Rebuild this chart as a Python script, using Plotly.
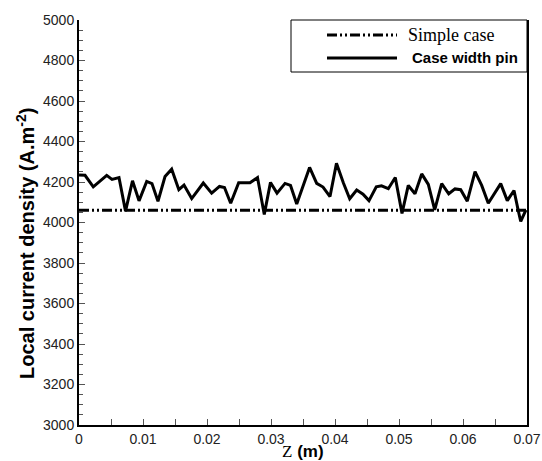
import plotly.graph_objects as go

# Data
z_simple = [0.0, 0.07]
j_simple = [4060, 4060]

z_pin = [0.0, 0.00094, 0.00223, 0.00433, 0.00516, 0.00625, 0.00727, 0.00836, 0.00938,
         0.01058, 0.0114, 0.01234, 0.01344, 0.01448, 0.0156, 0.01641, 0.01761, 0.01942,
         0.02073, 0.02195, 0.02273, 0.0237, 0.02495, 0.02672, 0.02789, 0.02895, 0.02992,
         0.03094, 0.03219, 0.03305, 0.03402, 0.03603, 0.03714, 0.03813, 0.03922, 0.04023,
         0.0413, 0.0423, 0.04339, 0.04438, 0.04531, 0.04645, 0.04727, 0.04833, 0.04942,
         0.05047, 0.05145, 0.0525, 0.05355, 0.05458, 0.05558, 0.05667, 0.05777, 0.05875,
         0.05964, 0.06067, 0.06188, 0.06292, 0.06395, 0.065, 0.06589, 0.06692, 0.06797,
         0.06864, 0.06902, 0.06984]
j_pin = [4235, 4233, 4176, 4233, 4213, 4222, 4056, 4206, 4107,
         4203, 4192, 4105, 4227, 4263, 4162, 4185, 4118, 4195,
         4145, 4178, 4173, 4095, 4196, 4196, 4222, 4040, 4198,
         4145, 4193, 4183, 4091, 4272, 4193, 4175, 4128, 4292,
         4196, 4117, 4160, 4140, 4108, 4176, 4181, 4167, 4222,
         4045, 4183, 4142, 4240, 4188, 4062, 4192, 4142, 4166,
         4162, 4105, 4251, 4183, 4095, 4145, 4192, 4108, 4158,
         4058, 4005, 4062]

x_ticks = [0, 0.01, 0.02, 0.03, 0.04, 0.05, 0.06, 0.07]
x_tick_text = ["0", "0.01", "0.02", "0.03", "0.04", "0.05", "0.06", "0.07"]
y_ticks = [3000, 3200, 3400, 3600, 3800, 4000, 4200, 4400, 4600, 4800, 5000]

W, H = 542, 461
L, R, T, B = 79, 15, 20, 36
PW, PH = W - L - R, H - T - B


def px(xp):
    return (xp - L) / PW


def py(yp):
    return (H - B - yp) / PH


DASHDOT = "10px,3px,2px,3px,2px,3px"

fig = go.Figure()
fig.add_trace(go.Scatter(
    x=z_simple, y=j_simple, mode="lines", name="Simple case", showlegend=False,
    line=dict(color="black", width=3, dash=DASHDOT),
))
fig.add_trace(go.Scatter(
    x=z_pin, y=j_pin, mode="lines", name="Case width pin", showlegend=False,
    line=dict(color="black", width=3),
))

# legend box, samples and labels
shapes = [
    dict(type="rect", xref="paper", yref="paper", x0=px(291), x1=px(527), y0=py(72), y1=py(20),
         line=dict(color="black", width=1), fillcolor="white", layer="above"),
    dict(type="line", xref="paper", yref="paper", x0=px(327), x1=px(397), y0=py(35), y1=py(35),
         line=dict(color="black", width=3, dash=DASHDOT), layer="above"),
    dict(type="line", xref="paper", yref="paper", x0=px(327), x1=px(397), y0=py(58), y1=py(58),
         line=dict(color="black", width=3), layer="above"),
]
annotations = [
    dict(xref="paper", yref="paper", x=px(406), y=py(35), xanchor="left", yanchor="middle",
         text="Simple case", showarrow=False,
         font=dict(family="Liberation Serif, Times New Roman", size=18, color="black")),
    dict(xref="paper", yref="paper", x=px(410), y=py(58), xanchor="left", yanchor="middle",
         text="<b>Case width pin</b>", showarrow=False,
         font=dict(family="Liberation Sans, Arial", size=15, color="black")),
    dict(xref="paper", yref="paper", x=px(303), y=py(451), xanchor="center", yanchor="middle",
         text="<span style='font-family:Liberation Serif'>Z</span> <b>(m)</b>", showarrow=False,
         font=dict(family="Liberation Sans, Arial", size=17, color="black")),
    dict(xref="paper", yref="paper", x=px(25), y=py(244), xanchor="center", yanchor="middle",
         textangle=-90, showarrow=False,
         text="<b>Local current density (A.m<sup>-2</sup>)</b>",
         font=dict(family="Liberation Sans, Arial", size=20, color="black")),
]

fig.update_layout(
    width=W, height=H,
    margin=dict(l=L, r=R, t=T, b=B),
    paper_bgcolor="white", plot_bgcolor="white",
    font=dict(family="Liberation Sans, Arial", size=14, color="#222"),
    showlegend=False,
    shapes=shapes, annotations=annotations,
    xaxis=dict(
        range=[0, 0.07], tickvals=x_ticks, ticktext=x_tick_text,
        showgrid=False, zeroline=False, automargin=False,
        showline=True, linecolor="black", linewidth=2, mirror=False,
        ticks="inside", ticklen=6, tickcolor="#555", tickwidth=1,
        minor=dict(dtick=0.005, ticks="inside", ticklen=6, tickcolor="#555", showgrid=False),
        tickfont=dict(size=14, color="#222"),
    ),
    yaxis=dict(
        range=[3000, 5000], tickvals=y_ticks,
        showgrid=False, zeroline=False, automargin=False,
        showline=True, linecolor="black", linewidth=2, mirror=True,
        ticks="inside", ticklen=6, tickcolor="#555", tickwidth=1,
        minor=dict(dtick=50, ticks="inside", ticklen=4, tickcolor="#555", showgrid=False),
        tickfont=dict(size=14, color="#222"),
    ),
)

fig.write_html("out.html", config={"displayModeBar": False},
               post_script="document.body.style.margin='0';")
